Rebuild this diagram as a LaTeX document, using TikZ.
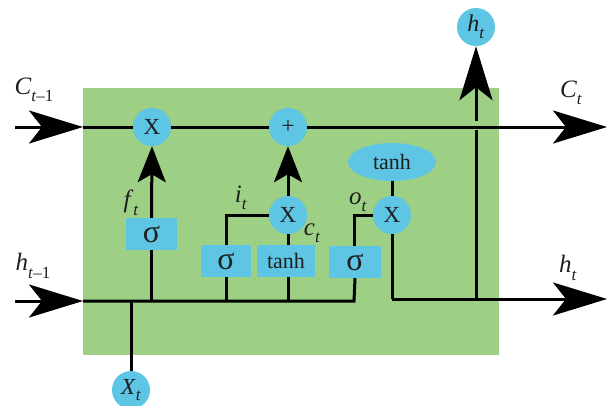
\documentclass[tikz,border=0pt]{standalone}
\usepackage{fontspec}
\setmainfont{Liberation Serif}
\usetikzlibrary{arrows.meta,shapes.geometric}
\definecolor{cellgreen}{RGB}{157,207,132}
\definecolor{gateblue}{RGB}{94,198,228}
\definecolor{ink}{RGB}{30,30,30}
\newcommand\sublbl[2]{\textit{#1}\raisebox{-0.3em}{\fontsize{17}{17}\selectfont #2}}
\begin{document}
\begin{tikzpicture}[x=1pt,y=-1pt,
  wire/.style={line width=3pt, black},
  bigarrow/.style={wire, -{Stealth[length=54pt,width=33pt,inset=13pt]}},
  smallarrow/.style={wire, -{Stealth[length=36pt,width=28pt,inset=8pt]}},
  opcirc/.style={circle, fill=gateblue, minimum size=38pt, inner sep=0pt, font=\fontsize{23}{23}\selectfont, text=ink},
  gatebox/.style={rectangle, fill=gateblue, minimum height=32pt, inner sep=0pt, font=\fontsize{32}{32}\selectfont, text=ink},
  lbl/.style={font=\fontsize{25}{25}\selectfont, text=ink, inner sep=0pt}
]
\useasboundingbox (0,0) rectangle (608,405);
\clip (0,0) rectangle (608,405);
% cell background
\fill[cellgreen] (83,88) rectangle (499,355);

% nodes
\node[opcirc] (fX) at (152,127) {X};
\node[opcirc] (plus) at (288,127) {+};
\node[opcirc] (iX) at (288,215) {X};
\node[opcirc] (oX) at (392,215) {X};
\node[ellipse, fill=gateblue, minimum width=88pt, minimum height=38pt, inner sep=0pt,
      font=\fontsize{22}{22}\selectfont, text=ink] (tanhE) at (392,162) {tanh};
\node[gatebox, minimum width=51pt] (fS) at (151.5,234) {σ};
\node[gatebox, minimum width=50pt] (iS) at (226,261) {σ};
\node[gatebox, minimum width=58pt, font=\fontsize{22}{22}\selectfont] (tS) at (286,261) {tanh};
\node[gatebox, minimum width=52pt] (oS) at (355,262) {σ};
\node[opcirc, font=\fontsize{24}{24}\selectfont] (ht) at (476,27) {\sublbl{h}{\textit{t}}};
\node[opcirc, font=\fontsize{23}{23}\selectfont] (xt) at (131,390) {\raisebox{2pt}{\sublbl{X}{\textit{t}}}};

% coordinates
\coordinate (cin) at (15,127);
\coordinate (cedge) at (83,127);
\coordinate (cout) at (607,127);
\coordinate (hin) at (15,301);
\coordinate (hedge) at (83,301);
\coordinate (hj) at (354,301);
\coordinate (hcorner) at (392,299);
\coordinate (hout) at (607,299);
\coordinate (hv) at (476,299);
\coordinate (gapLo) at (476,130);
\coordinate (gapHi) at (476,121);

% cell state line
\draw[bigarrow] (cin) -- (cedge);
\draw[wire] (cedge) -- (fX.west);
\draw[wire] (fX.east) -- (plus.west);
\draw[bigarrow] (plus.east) -- (cout);

% hidden input line
\draw[bigarrow] (hin) -- (hedge);
\draw[wire] (hedge) -- (hj) -- (oS.south);
\draw[wire] (fS.south) -- (fS.south |- hedge);
\draw[wire] (iS.south) -- (iS.south |- hedge);
\draw[wire] (iX.south |- tS.south) -- (iX.south |- hedge);
\draw[wire] (xt.north) -- (xt.north |- hedge);

% forget gate
\draw[smallarrow] (fS.north) -- (fX.south);
% input gate
\draw[wire] (iS.north) -- (iS.north |- iX.west) -- (iX.west);
\draw[wire] (iX.south |- tS.north) -- (iX.south);
\draw[smallarrow] (iX.north) -- (plus.south);
% output gate
\draw[wire] (hj |- oS.north) -- (hj |- oX.west) -- (oX.west);
\draw[wire] (tanhE.south) -- (oX.north);
\draw[wire] (oX.south) -- (hcorner);
\draw[bigarrow] (hcorner) -- (hout);
\draw[wire] (hv) -- (gapLo);
\draw[bigarrow] (gapHi) -- (ht.south);

% labels
\node[lbl] (lCin) at (34,90) {\sublbl{C}{\textit{t}–1}};
\node[lbl] (lCout) at (571,93) {\sublbl{C}{\textit{t}}};
\node[lbl] (lhin) at (33,266) {\sublbl{h}{\textit{t}–1}};
\node[lbl] (lhout) at (568,268) {\sublbl{h}{\textit{t}}};
\node[lbl] (lf) at (131,203) {\sublbl{f}{\textit{t}}};
\node[lbl] (li) at (241,198) {\sublbl{i}{\textit{t}}};
\node[lbl] (lc) at (312,233) {\sublbl{c}{\textit{t}}};
\node[lbl] (lo) at (358,202) {\sublbl{o}{\textit{t}}};
\end{tikzpicture}
\end{document}
